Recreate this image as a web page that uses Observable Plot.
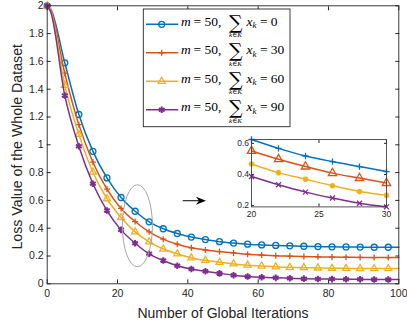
<!DOCTYPE html>
<html>
<head>
<meta charset="utf-8">
<script src="https://cdn.jsdelivr.net/npm/d3@7"></script>
<script src="https://cdn.jsdelivr.net/npm/@observablehq/plot@0.6"></script>
<style>
  body { margin: 0; background: #fff; }
  #chart { position: relative; width: 407px; height: 327px; overflow: hidden; }
  #chart svg { position: absolute; overflow: visible; }
</style>
</head>
<body>
<div id="chart"></div>
<script>
// Training iterations at which the loss curves are sampled
const iterations = [0, 1, 5, 9, 13, 17, 21, 25, 29, 33, 37, 41, 45, 49, 53, 57, 61, 65, 69, 73, 77, 81, 85, 89, 93, 97, 100];
// Iterations that carry a marker
const markerIterations = [0, 5, 9, 13, 17, 21, 25, 29, 33, 37, 41, 45, 49, 53, 57, 61, 65, 69, 73, 77, 81, 85, 89, 93, 97];

// Loss of the whole dataset for m = 50 and each total sum of x_k
const lossSum0  = [2.0, 1.975, 1.59, 1.218, 0.953, 0.762, 0.621, 0.522, 0.446, 0.396, 0.362, 0.336, 0.318, 0.303, 0.293, 0.285, 0.280, 0.276, 0.273, 0.270, 0.268, 0.266, 0.265, 0.264, 0.263, 0.263, 0.263];
const lossSum30 = [2.0, 1.970, 1.515, 1.145, 0.875, 0.681, 0.542, 0.448, 0.374, 0.321, 0.285, 0.259, 0.243, 0.232, 0.222, 0.213, 0.207, 0.202, 0.199, 0.196, 0.194, 0.192, 0.191, 0.190, 0.189, 0.189, 0.189];
const lossSum60 = [2.0, 1.965, 1.427, 1.075, 0.803, 0.612, 0.477, 0.374, 0.302, 0.250, 0.216, 0.186, 0.168, 0.155, 0.143, 0.134, 0.128, 0.122, 0.119, 0.116, 0.114, 0.112, 0.111, 0.110, 0.110, 0.110, 0.110];
const lossSum90 = [2.0, 1.955, 1.355, 0.990, 0.720, 0.527, 0.388, 0.292, 0.216, 0.168, 0.130, 0.106, 0.090, 0.075, 0.062, 0.053, 0.047, 0.043, 0.040, 0.037, 0.035, 0.034, 0.033, 0.032, 0.031, 0.031, 0.031];

// Close-up of iterations 20 to 30
const zoomIterations = [20, 22, 24, 26, 28, 30];
const zoomSum0  = [0.625, 0.568, 0.519, 0.483, 0.451, 0.419];
const zoomSum30 = [0.551, 0.498, 0.451, 0.409, 0.377, 0.345];
const zoomSum60 = [0.468, 0.412, 0.370, 0.328, 0.291, 0.266];
const zoomSum90 = [0.387, 0.334, 0.287, 0.249, 0.215, 0.192];

const sumValues = [0, 30, 60, 90];
const mValue = 50;
const seriesColors = ["#0072BD", "#D95319", "#EDB120", "#7E2F8E"];

const xTicks = [0, 20, 40, 60, 80, 100];
const yTicks = [0, 0.2, 0.4, 0.6, 0.8, 1, 1.2, 1.4, 1.6, 1.8, 2];
const zoomXTicks = [20, 25, 30];
const zoomYTicks = [0.2, 0.4, 0.6];

const xLabel = "Number of Global Iterations";
const yLabel = "Loss Value of the Whole Dataset";

// Marker styles for the full view and for the close-up
const mainSymbols = [
  {symbol: "circle", r: 3, fill: "none", strokeWidth: 1.3},
  {symbol: "plus", r: 2.1, fill: "none", strokeWidth: 1.3},
  {symbol: "triangle", r: 2.6, fill: "none", strokeWidth: 1.3},
  {symbol: "asterisk", r: 3.1, fill: "none", strokeWidth: 2}
];
const zoomSymbols = [
  {symbol: "plus", r: 2.2, fill: "none", strokeWidth: 1.3},
  {symbol: "triangle", r: 3.1, fill: "none", strokeWidth: 1.3},
  {symbol: "asterisk", r: 2.6, fill: "none", strokeWidth: 2.2},
  {symbol: "times", r: 2.4, fill: "none", strokeWidth: 1.3}
];

const mainSeries = [lossSum0, lossSum30, lossSum60, lossSum90];
const zoomSeries = [zoomSum0, zoomSum30, zoomSum60, zoomSum90];

const mainRows = mainSeries.flatMap((vals, s) => iterations.map((it, i) => ({s, it, loss: vals[i]})));
const zoomRows = zoomSeries.flatMap((vals, s) => zoomIterations.map((it, i) => ({s, it, loss: vals[i]})));

const axisColor = "#262626";
const sans = "'Liberation Sans', Arial, Helvetica, sans-serif";

function seriesMarks(rows, symbols, markerFilter) {
  const marks = [];
  symbols.forEach((sym, s) => {
    const data = rows.filter(d => d.s === s);
    marks.push(Plot.line(data, {x: "it", y: "loss", stroke: seriesColors[s], strokeWidth: 1.5, curve: "monotone-x"}));
    marks.push(Plot.dot(data.filter(markerFilter), {
      x: "it", y: "loss", symbol: () => sym.symbol, r: sym.r,
      stroke: seriesColors[s], fill: sym.fill, strokeWidth: sym.strokeWidth
    }));
  });
  return marks;
}

const fmt = d => String(+d.toFixed(1));

// Main chart
const mainMargin = {left: 46.7, right: 8.7, top: 5.3, bottom: 43.7};
const main = Plot.plot({
  width: 407,
  height: 327,
  marginLeft: mainMargin.left,
  marginRight: mainMargin.right,
  marginTop: mainMargin.top,
  marginBottom: mainMargin.bottom,
  x: {domain: [0, 100]},
  y: {domain: [0, 2]},
  symbol: {type: "identity"},
  style: {fontFamily: sans, fontSize: "10.5px", color: axisColor, background: "#fff", overflow: "visible"},
  marks: [
    Plot.axisX(xTicks, {anchor: "bottom", tickSize: 0, tickPadding: 6, tickFormat: fmt, label: null}),
    Plot.axisY(yTicks, {anchor: "left", tickSize: 0, tickPadding: 3.5, tickFormat: fmt, label: null}),
    Plot.axisX(xTicks, {anchor: "bottom", tickSize: -4, tickFormat: () => "", label: null, stroke: axisColor}),
    Plot.axisX(xTicks, {anchor: "top", tickSize: -4, tickFormat: () => "", label: null, stroke: axisColor}),
    Plot.axisY(yTicks, {anchor: "left", tickSize: -4, tickFormat: () => "", label: null, stroke: axisColor}),
    Plot.axisY(yTicks, {anchor: "right", tickSize: -4, tickFormat: () => "", label: null, stroke: axisColor}),
    ...seriesMarks(mainRows, mainSymbols, d => markerIterations.includes(d.it)),
    Plot.frame({stroke: axisColor, strokeWidth: 0.9}),
    Plot.text([xLabel], {frameAnchor: "bottom", dy: 29.4, textAnchor: "middle", lineAnchor: "middle", fontSize: 14, fill: axisColor}),
    Plot.text([yLabel], {frameAnchor: "left", dx: -30, dy: 2, rotate: -90, textAnchor: "middle", lineAnchor: "middle", fontSize: 14.2, fill: axisColor})
  ]
});
main.style.left = "0px";
main.style.top = "0px";
document.getElementById("chart").append(main);

const xs = main.scale("x");
const ys = main.scale("y");
const svg = d3.select(main);

// Ellipse around the region shown in the close-up
const focus = {cx: 25.8, cy: 0.414, rx: 4.27, ry: 0.295};
svg.append("ellipse")
  .attr("cx", xs.apply(focus.cx))
  .attr("cy", ys.apply(focus.cy))
  .attr("rx", xs.apply(focus.cx + focus.rx) - xs.apply(focus.cx))
  .attr("ry", ys.apply(focus.cy - focus.ry) - ys.apply(focus.cy))
  .attr("fill", "none")
  .attr("stroke", "#a6a6a6")
  .attr("stroke-width", 1);

// Arrow pointing to the close-up
const pointer = {x1: 38.7, x2: 45.3, y: 0.594};
{
  const ax1 = xs.apply(pointer.x1), ax2 = xs.apply(pointer.x2), ay = ys.apply(pointer.y);
  svg.append("line").attr("x1", ax1).attr("x2", ax2 - 7).attr("y1", ay).attr("y2", ay)
    .attr("stroke", "#000").attr("stroke-width", 1);
  svg.append("path")
    .attr("d", `M${ax2},${ay} L${ax2 - 10},${ay - 4} L${ax2 - 7},${ay} L${ax2 - 10},${ay + 4} Z`)
    .attr("fill", "#000");
}

// Legend
{
  const lg = svg.append("g").attr("text-anchor", "start");
  const box = {x: 143.3, y: 9, w: 146.7, h: 117.7};
  lg.append("rect").attr("x", box.x).attr("y", box.y).attr("width", box.w).attr("height", box.h)
    .attr("fill", "#fff").attr("stroke", axisColor).attr("stroke-width", 0.9);
  const serif = "'Liberation Serif', 'DejaVu Serif', 'Times New Roman', serif";
  const symbolPaths = {
    circle: r => d3.symbol(d3.symbolCircle, Math.PI * r * r)(),
    plus: r => d3.symbol(d3.symbolPlus, Math.PI * r * r)(),
    triangle: r => d3.symbol(d3.symbolTriangle, Math.PI * r * r)(),
    asterisk: r => d3.symbol(d3.symbolAsterisk, Math.PI * r * r)()
  };
  sumValues.forEach((v, i) => {
    const ry = 24.3 + i * 28.5;
    const sym = mainSymbols[i];
    lg.append("line").attr("x1", 146).attr("x2", 178.3).attr("y1", ry).attr("y2", ry)
      .attr("stroke", seriesColors[i]).attr("stroke-width", 1.5);
    lg.append("path").attr("transform", `translate(161.7,${ry})`).attr("d", symbolPaths[sym.symbol](sym.r))
      .attr("fill", "none").attr("stroke", seriesColors[i]).attr("stroke-width", sym.strokeWidth);
    const t = lg.append("text").attr("x", 181).attr("y", ry + 1.5).attr("text-anchor", "start")
      .attr("font-family", serif).attr("font-size", 13.5).attr("fill", "#000");
    t.append("tspan").attr("font-style", "italic").text("m");
    t.append("tspan").text(`\u2009= ${mValue},`);
    lg.append("text").attr("x", 235.8).attr("y", ry + 4.5).attr("text-anchor", "middle")
      .attr("font-family", "'DejaVu Serif', serif").attr("font-size", 19).attr("font-weight", 300)
      .attr("fill", "#000").text("∑");
    const sub = lg.append("text").attr("x", 235.5).attr("y", ry + 13).attr("text-anchor", "middle")
      .attr("font-family", serif).attr("font-size", 7).attr("fill", "#000");
    sub.append("tspan").attr("font-style", "italic").text("k");
    sub.append("tspan").text("∈");
    sub.append("tspan").attr("font-style", "italic").text("K");
    const rhs = lg.append("text").attr("x", 246.5).attr("y", ry + 1.5).attr("text-anchor", "start")
      .attr("font-family", serif).attr("font-size", 13.5).attr("fill", "#000");
    rhs.append("tspan").attr("font-style", "italic").text("x");
    rhs.append("tspan").attr("font-style", "italic").attr("font-size", 9).attr("dy", 2.5).text("k");
    rhs.append("tspan").attr("dy", -2.5).text(` = ${v}`);
  });
}

// Close-up of iterations 20 to 30
const inset = {left: 250.7, top: 139.3, width: 135, height: 67.4};
const insetMargin = {left: 24, right: 10, top: 4, bottom: 16};
const zoomPlot = Plot.plot({
  width: inset.width + insetMargin.left + insetMargin.right,
  height: inset.height + insetMargin.top + insetMargin.bottom,
  marginLeft: insetMargin.left,
  marginRight: insetMargin.right,
  marginTop: insetMargin.top,
  marginBottom: insetMargin.bottom,
  x: {domain: [20, 30]},
  y: {domain: d3.extent(zoomRows, d => d.loss)},
  style: {fontFamily: sans, fontSize: "8.5px", color: axisColor, background: "transparent", overflow: "visible"},
  marks: [
    Plot.frame({fill: "#fff", stroke: "none"}),
    Plot.axisX(zoomXTicks, {anchor: "bottom", tickSize: 0, tickPadding: 4, label: null}),
    Plot.axisY(zoomYTicks, {anchor: "left", tickSize: 0, tickPadding: 2.5, tickFormat: fmt, label: null}),
    Plot.axisX(zoomXTicks, {anchor: "bottom", tickSize: -3, tickFormat: () => "", label: null}),
    Plot.axisX(zoomXTicks, {anchor: "top", tickSize: -3, tickFormat: () => "", label: null}),
    Plot.axisY(zoomYTicks, {anchor: "left", tickSize: -3, tickFormat: () => "", label: null}),
    Plot.axisY(zoomYTicks, {anchor: "right", tickSize: -3, tickFormat: () => "", label: null}),
    ...seriesMarks(zoomRows, zoomSymbols, () => true),
    Plot.frame({stroke: "#404040", strokeWidth: 0.9})
  ]
});
zoomPlot.style.left = (inset.left - insetMargin.left) + "px";
zoomPlot.style.top = (inset.top - insetMargin.top) + "px";
document.getElementById("chart").append(zoomPlot);
</script>
</body>
</html>
